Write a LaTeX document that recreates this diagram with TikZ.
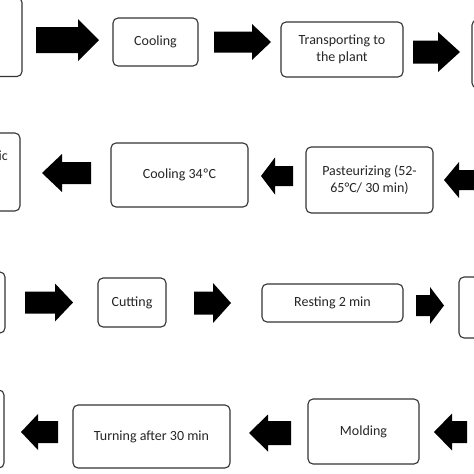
\documentclass[tikz,border=0pt]{standalone}
\usepackage{fontspec}
\setmainfont{Carlito}
\usepackage{tikz}
\usetikzlibrary{calc}

\tikzset{
  stepbox/.style={draw=black!80, line width=1.1pt, rounded corners=5pt, fill=white,
    inner sep=0pt, align=center, text=black!85,
    font=\fontsize{14}{16.5}\selectfont},
  arrowfill/.style={fill=black}
}

% block arrow: tail x, head base x, tip x, centre y, half shaft, half head
\newcommand{\fatarrow}[6]{%
  \fill[arrowfill] ({#1},{#4-#5}) -- ({#2},{#4-#5}) -- ({#2},{#4-#6}) -- ({#3},{#4})
    -- ({#2},{#4+#6}) -- ({#2},{#4+#5}) -- ({#1},{#4+#5}) -- cycle;}

\begin{document}
\begin{tikzpicture}[x=1pt,y=-1pt]

    \useasboundingbox (0,0) rectangle (474,474);
    \clip (0,0) rectangle (474,474);
    \fill[white] (0,0) rectangle (474,474);

	% first row
	\node[stepbox, minimum width=100pt, minimum height=79pt] (milking) at (-28,37) {};
	\node[stepbox, minimum width=85pt, minimum height=48pt] (cooling) at (155.5,42) {Cooling};
	\node[stepbox, minimum width=122pt, minimum height=55pt] (transport) at (342,49.5) {Transporting to\\the plant};
	\node[stepbox, minimum width=100pt, minimum height=68pt] (reception) at (522,54) {};
	
	\fatarrow{36}{78}{99}{40}{13}{21}
	\fatarrow{214}{252}{271}{42}{10.5}{18}
	\fatarrow{413}{438}{460}{52}{11.5}{20}
	
	% second row
	\node[stepbox, minimum width=100pt, minimum height=78pt] (adding) at (-30,172) {};
	\node[anchor=base east, text=black!85, font=\fontsize{14}{16.5}\selectfont, inner sep=0pt] (addtext) at (8,160) {ic};
	\node[stepbox, minimum width=137pt, minimum height=64pt] (cooling34) at (179.5,175) {Cooling 34ºC};
	\node[stepbox, minimum width=127pt, minimum height=66pt] (pasteur) at (369.5,180) {Pasteurizing (52-\\65°C/ 30 min)};
	
	\fatarrow{91}{62}{42}{173}{11}{19}
	\fatarrow{293}{275}{261}{176}{10}{18.5}
	\fatarrow{480}{459}{444}{180}{10}{18}
	
	% third row
	\node[stepbox, minimum width=100pt, minimum height=61pt] (coagul) at (-45,302.5) {};
	\node[stepbox, minimum width=68pt, minimum height=49pt] (cutting) at (132,302.5) {Cutting};
	\node[stepbox, minimum width=141pt, minimum height=38pt] (resting) at (332.5,303) {Resting 2 min};
	\node[stepbox, minimum width=100pt, minimum height=61pt] (draining) at (509,307.5) {};
	
	\fatarrow{25}{55}{73}{302.5}{11}{19}
	\fatarrow{194}{213}{231}{303}{11.5}{20}
	\fatarrow{416}{430}{444}{305.5}{10.5}{18.5}
	
	% fourth row
	\node[stepbox, minimum width=100pt, minimum height=78pt] (salting) at (-46,429) {};
	\node[stepbox, minimum width=157pt, minimum height=63pt] (turning) at (151.5,436.5) {Turning after 30 min};
	\node[stepbox, minimum width=111pt, minimum height=65pt] (molding) at (363.5,431.5) {Molding};
	
	\fatarrow{58}{38}{21}{432}{11}{18}
	\fatarrow{291}{268}{249}{433}{12}{18.5}
	\fatarrow{467}{452}{434}{432}{11}{18.5}
		
\end{tikzpicture}
\end{document}
